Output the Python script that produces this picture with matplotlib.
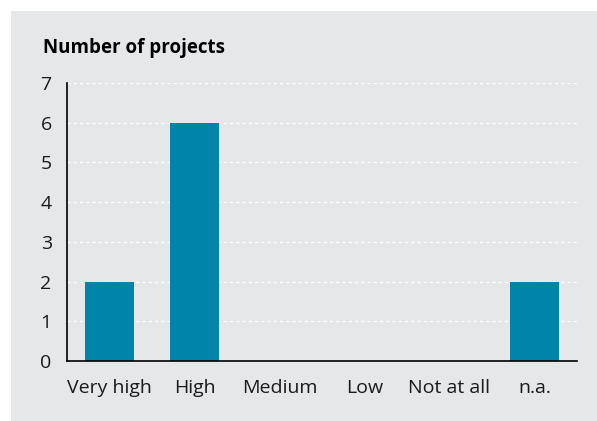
import matplotlib as mpl
import matplotlib.pyplot as plt
import matplotlib.ticker as ticker

mpl.rcParams['font.family'] = ['Open Sans', 'DejaVu Sans']

categories = ["Very high", "High", "Medium", "Low", "Not at all", "n.a."]
projects = [2, 6, 0, 0, 0, 2]
y_ticks = [0, 1, 2, 3, 4, 5, 6, 7]

panel_bg = '#e6e7e9'
bar_color = '#0084aa'

fig = plt.figure(figsize=(5.97, 4.21), dpi=100)
fig.patch.set_facecolor('white')
# grey panel behind everything
fig.patches.append(mpl.patches.Rectangle((11 / 597, 0), 1 - 11 / 597, 1 - 11 / 421,
                                         transform=fig.transFigure, facecolor=panel_bg,
                                         edgecolor='none', zorder=-10))

ax = fig.add_axes([67 / 597, 1 - 361 / 421, (577 - 67) / 597, (361 - 83) / 421])
ax.set_facecolor('none')

x = range(len(categories))
ax.bar(x, projects, width=0.565, color=bar_color, zorder=3)

ax.set_xlim(-0.5, 5.5)
ax.set_ylim(0, 7)
ax.set_xticks(list(x))
ax.set_xticklabels(categories)
ax.yaxis.set_major_locator(ticker.FixedLocator(y_ticks))

for v in y_ticks[1:]:
    ax.axhline(v, color='white', linestyle=(0, (2.5, 2.5)), linewidth=0.9, zorder=1)

for side in ['top', 'right']:
    ax.spines[side].set_visible(False)
ax.spines['left'].set_linewidth(1.2)
ax.spines['bottom'].set_linewidth(1.2)
ax.spines['left'].set_zorder(4)
ax.spines['bottom'].set_zorder(4)

ax.tick_params(axis='both', length=0, labelsize=14, colors='#1a1a1a')
ax.tick_params(axis='y', pad=11)
ax.tick_params(axis='x', pad=13)

fig.text(43 / 597, 1 - 48 / 421, "Number of projects", fontsize=13.5,
         fontweight='bold', va='center', ha='left', color='black')

fig.savefig("out.png", dpi=100, facecolor=fig.get_facecolor())
